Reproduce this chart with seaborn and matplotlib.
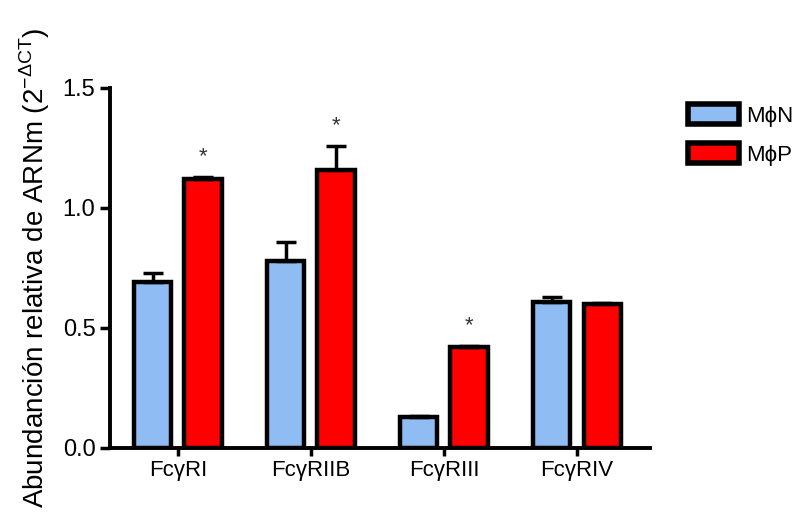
import pandas as pd
import matplotlib.pyplot as plt
import seaborn as sns
from matplotlib.patches import Patch

# Datos
receptores = ['FcγRI', 'FcγRIIB', 'FcγRIII', 'FcγRIV']
grupos = ['MϕN', 'MϕP']
media_N = [0.69, 0.78, 0.13, 0.61]
media_P = [1.12, 1.16, 0.42, 0.60]
err_N = [0.04, 0.08, 0.005, 0.02]
err_P = [0.01, 0.10, 0.005, 0.005]
signif_P = [True, True, True, False]

colores = {'MϕN': '#8fbcf2', 'MϕP': '#ff0000'}

df = pd.DataFrame({
    'receptor': receptores * 2,
    'grupo': ['MϕN'] * 4 + ['MϕP'] * 4,
    'valor': media_N + media_P,
    'err': err_N + err_P,
})

sns.set_style('ticks')
plt.rcParams['font.family'] = ['Liberation Sans', 'DejaVu Sans']
plt.rcParams['text.color'] = 'black'
plt.rcParams['axes.labelcolor'] = 'black'
plt.rcParams['xtick.color'] = 'black'
plt.rcParams['ytick.color'] = 'black'

fig = plt.figure(figsize=(8.05, 5.25), dpi=100)
ax = fig.add_axes([0.1366, 0.1467, 0.671, 0.6857])

sns.barplot(data=df, x='receptor', y='valor', hue='grupo', order=receptores,
            hue_order=grupos, palette=colores, saturation=1, width=0.76, gap=0.26,
            edgecolor='black', linewidth=3.2, errorbar=None, legend=False, ax=ax)

# barras de error (solo hacia arriba)
for j, g in enumerate(grupos):
    sub = df[df['grupo'] == g].set_index('receptor').loc[receptores]
    cont = ax.containers[j]
    xs = [p.get_x() + p.get_width() / 2 for p in cont.patches]
    ax.errorbar(xs, sub['valor'], yerr=[[0] * len(xs), sub['err']], fmt='none',
                ecolor='black', elinewidth=2.5, capsize=7, capthick=2.5, zorder=1)
    if g == 'MϕP':
        for x, v, e, s in zip(xs, sub['valor'], sub['err'], signif_P):
            if s:
                ax.text(x, v + e + 0.04, '*', ha='center', va='bottom',
                        fontsize=16, color='#333333')

ax.set_xlim(-0.51, 3.55)
ax.set_ylim(0, 1.5)
ax.set_yticks([0.0, 0.5, 1.0, 1.5])
ax.set_yticklabels(['0.0', '0.5', '1.0', '1.5'])
ax.set_xlabel('')
ax.set_ylabel('Abundanción relativa de ARNm (2$^{\\mathregular{-\\Delta CT}}$)', fontsize=20, labelpad=8)
ax.tick_params(axis='both', labelsize=17, width=2.5, length=7, color='black')
ax.tick_params(axis='x', length=6, pad=3, labelsize=16)
for s in ['left', 'bottom']:
    ax.spines[s].set_linewidth(2.8)
    ax.spines[s].set_color('black')
sns.despine(ax=ax)

handles = [Patch(facecolor=colores[g], edgecolor='black', linewidth=4, label=g) for g in grupos]
fig.legend(handles=handles, loc='upper left', bbox_to_anchor=(0.83, 0.84), frameon=False,
           fontsize=16, handlelength=2.3, handleheight=1.0, handletextpad=0.3, labelspacing=0.75)

fig.savefig('out.png', dpi=100)
